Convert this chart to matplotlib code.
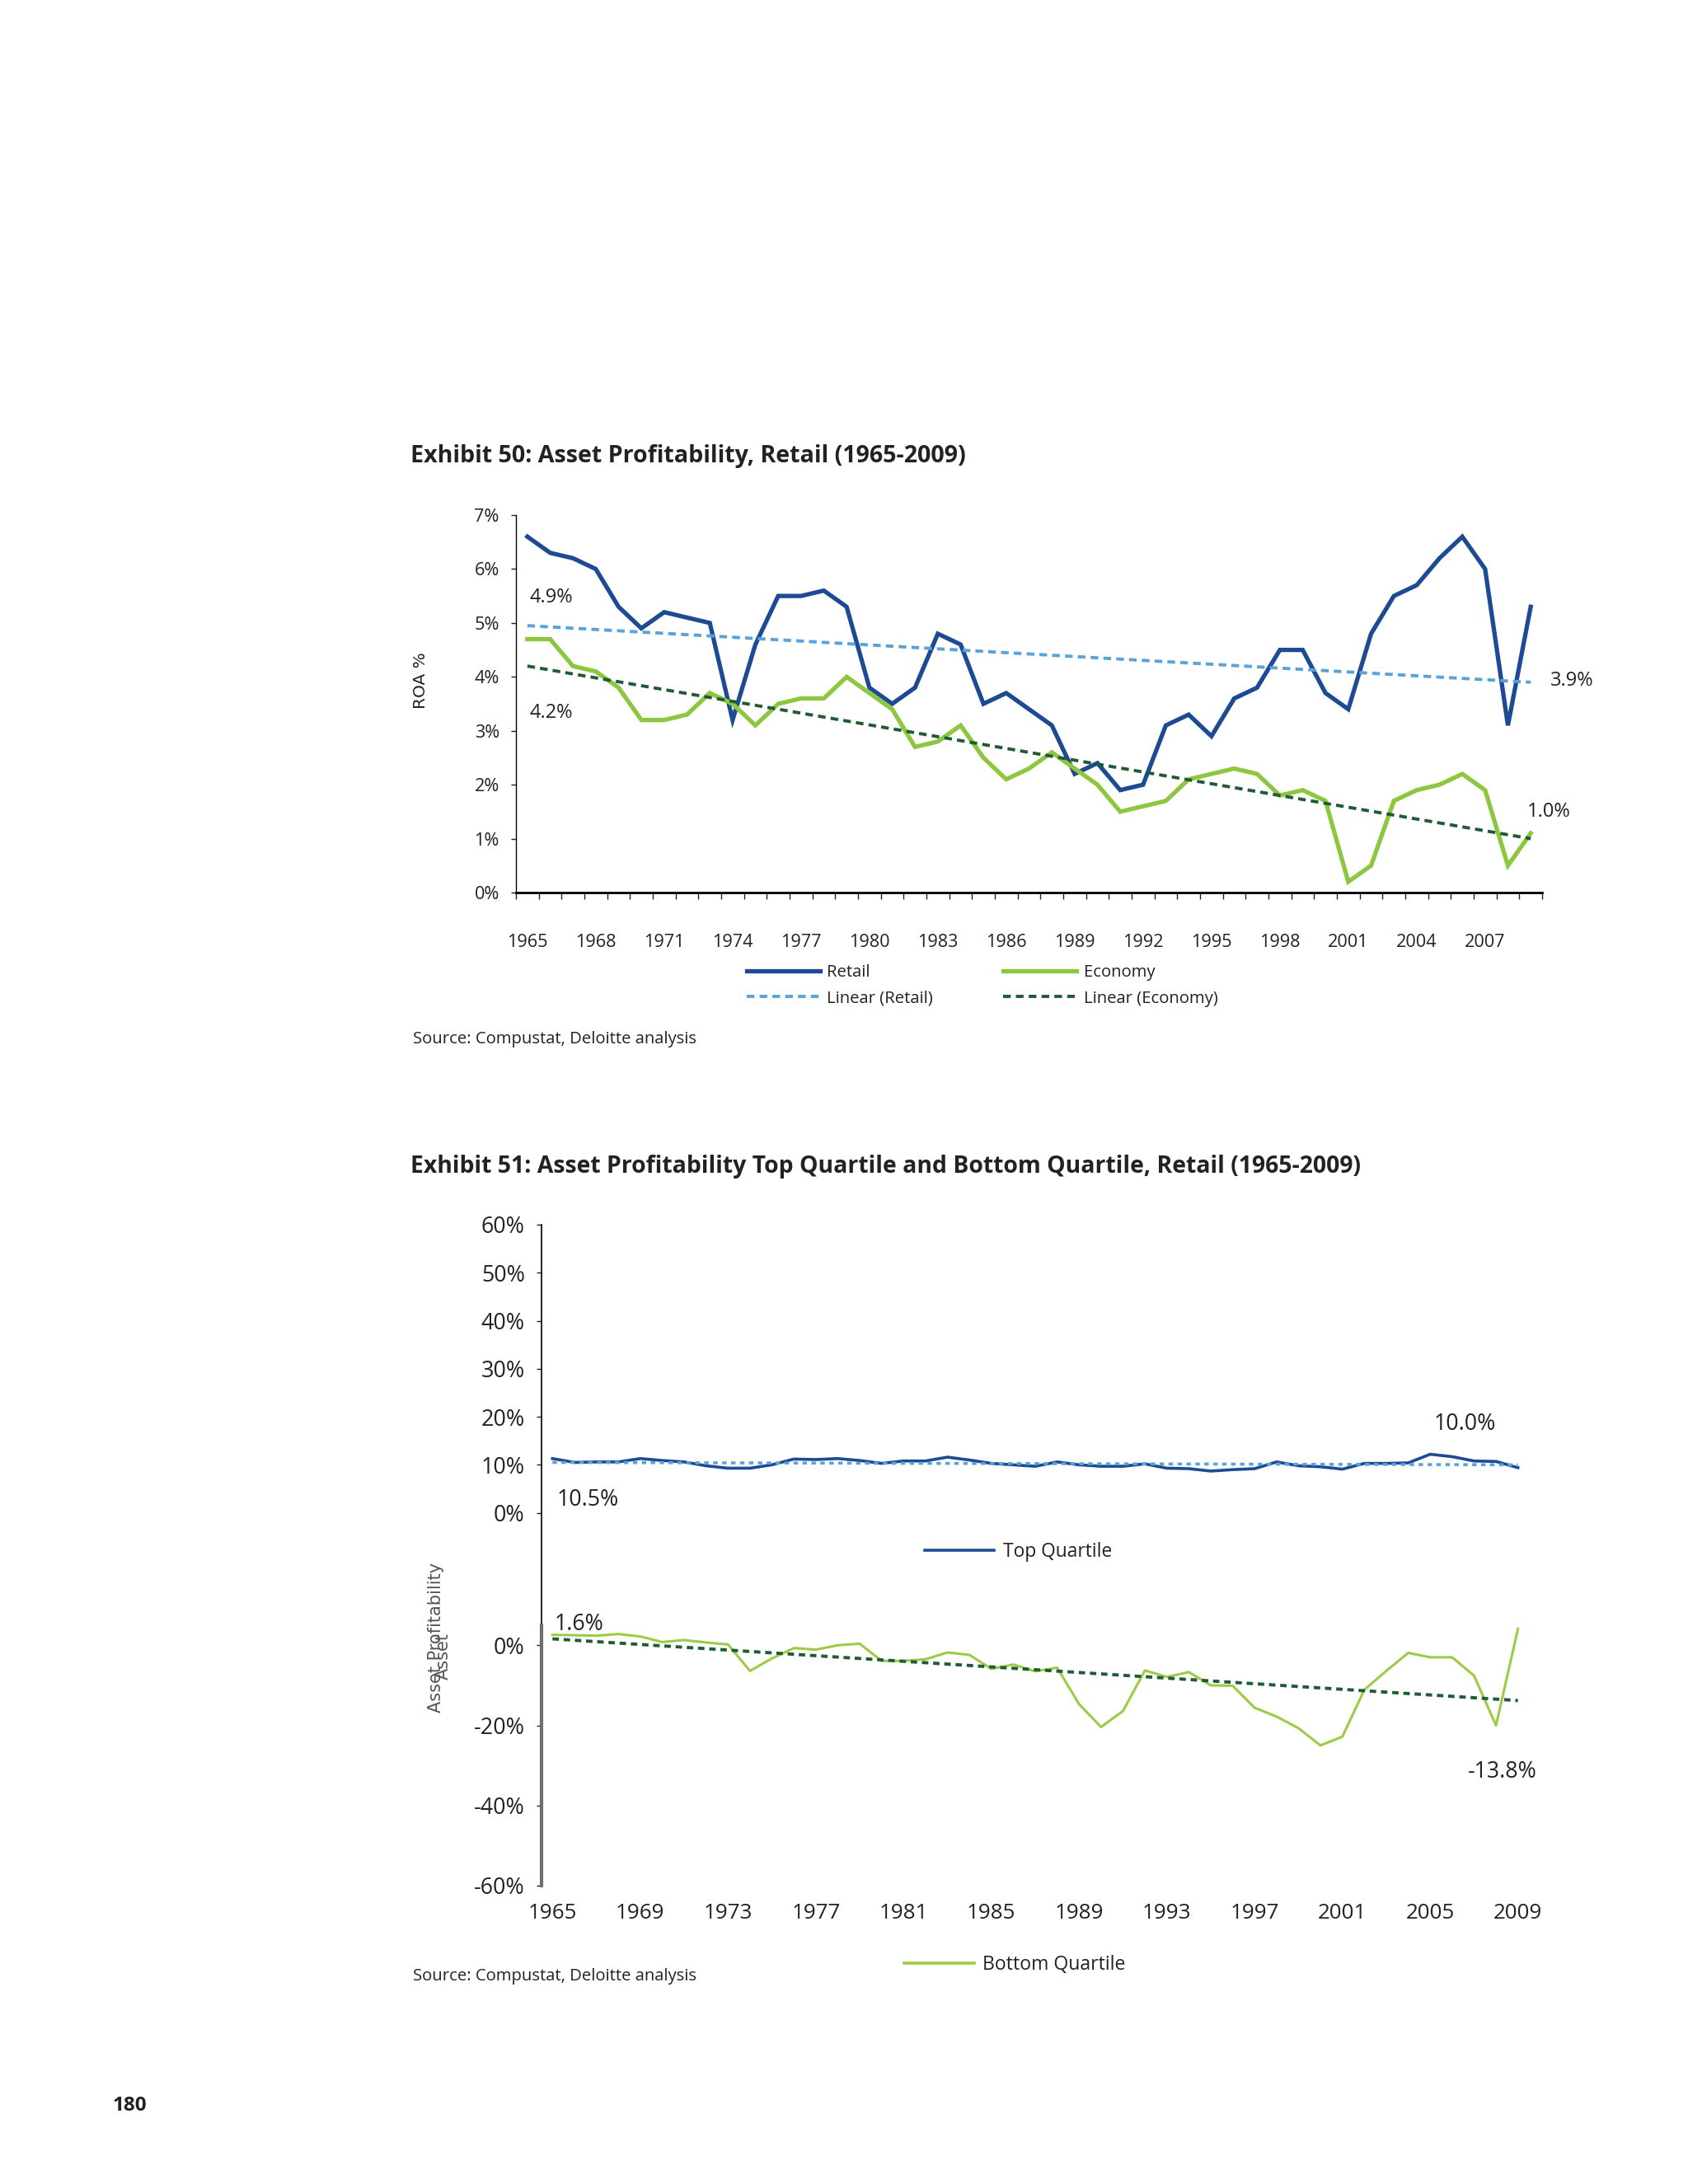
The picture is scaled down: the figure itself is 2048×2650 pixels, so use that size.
import numpy as np
import matplotlib
matplotlib.use("Agg")
import matplotlib.pyplot as plt
from matplotlib.lines import Line2D

plt.rcParams['font.family'] = ['Open Sans', 'DejaVu Sans']
plt.rcParams['text.color'] = '#222222'
plt.rcParams['axes.labelcolor'] = '#222222'
plt.rcParams['xtick.color'] = '#222222'
plt.rcParams['ytick.color'] = '#222222'

# ---- data ----
years = list(range(1965, 2010))

retail_roa = [6.6, 6.3, 6.2, 6.0, 5.3, 4.9, 5.2, 5.1, 5.0, 3.2,
              4.6, 5.5, 5.5, 5.6, 5.3, 3.8, 3.5, 3.8, 4.8, 4.6,
              3.5, 3.7, 3.4, 3.1, 2.2, 2.4, 1.9, 2.0, 3.1, 3.3,
              2.9, 3.6, 3.8, 4.5, 4.5, 3.7, 3.4, 4.8, 5.5, 5.7,
              6.2, 6.6, 6.0, 3.1, 5.3]
economy_roa = [4.7, 4.7, 4.2, 4.1, 3.8, 3.2, 3.2, 3.3, 3.7, 3.5,
               3.1, 3.5, 3.6, 3.6, 4.0, 3.7, 3.4, 2.7, 2.8, 3.1,
               2.5, 2.1, 2.3, 2.6, 2.3, 2.0, 1.5, 1.6, 1.7, 2.1,
               2.2, 2.3, 2.2, 1.8, 1.9, 1.7, 0.2, 0.5, 1.7, 1.9,
               2.0, 2.2, 1.9, 0.5, 1.1]
retail_trend = [4.95, 3.90]     # linear trend, 1965 -> 2009
economy_trend = [4.20, 1.00]

top_quartile = [11.3, 10.5, 10.6, 10.6, 11.3, 10.9, 10.6, 9.8, 9.3, 9.3,
                10.0, 11.2, 11.1, 11.3, 10.9, 10.3, 10.8, 10.8, 11.6, 11.0,
                10.3, 10.0, 9.7, 10.6, 10.0, 9.7, 9.7, 10.2, 9.3, 9.2,
                8.7, 9.0, 9.2, 10.6, 9.8, 9.6, 9.1, 10.3, 10.3, 10.4,
                12.2, 11.7, 10.8, 10.7, 9.4]
bottom_quartile = [2.6, 2.5, 2.4, 2.8, 2.2, 0.8, 1.3, 0.7, 0.2, -6.4,
                   -3.3, -0.7, -1.1, 0.0, 0.4, -3.9, -3.9, -3.5, -1.8, -2.4,
                   -5.9, -4.8, -6.5, -5.6, -14.7, -20.4, -16.4, -6.3, -7.9, -6.7,
                   -10.0, -10.1, -15.6, -17.8, -20.7, -25.0, -22.8, -11.1, -6.4, -1.9,
                   -3.0, -3.0, -7.6, -20.0, 4.1]
top_trend = [10.5, 10.0]
bottom_trend = [1.6, -13.8]

# ---- styles ----
C_RETAIL = '#1C4B94'
C_ECON = '#8DC63F'
C_LIN_RETAIL = '#5AA2DA'
C_LIN_ECON = '#1F5C33'
C_BOTTOM = '#9CCB45'

W, H = 2048, 2650
fig = plt.figure(figsize=(W / 100, H / 100), dpi=100)


def fx(px):
    return px / W


def fy(py):
    return 1 - py / H


x = np.arange(len(years))
ends = [x[0], x[-1]]

# ================= Exhibit 50 =================
fig.text(fx(498), fy(554), 'Exhibit 50: Asset Profitability, Retail (1965-2009)',
         fontsize=20.6, fontweight='bold', va='center', ha='left')

ax1 = fig.add_axes([fx(626), fy(1083), fx(1871 - 626), (1083 - 625) / H])
ax1.plot(x, retail_roa, color=C_RETAIL, lw=3.8, label='Retail', solid_joinstyle='miter')
ax1.plot(x, economy_roa, color=C_ECON, lw=3.8, label='Economy', solid_joinstyle='miter')
ax1.plot(ends, retail_trend, color=C_LIN_RETAIL, lw=2.8, ls=(0, (2.4, 1.6)), label='Linear (Retail)')
ax1.plot(ends, economy_trend, color=C_LIN_ECON, lw=2.8, ls=(0, (2.4, 1.6)), label='Linear (Economy)')
ax1.set_xlim(-0.5, len(years) - 0.5)
ax1.set_ylim(0, 7)
ax1.set_yticks(range(0, 8))
ax1.set_yticklabels([f'{v}%' for v in range(0, 8)])
ax1.set_xticks(x[::3])
ax1.set_xticklabels([str(y) for y in years[::3]])
ax1.set_xticks(np.arange(-0.5, len(years)), minor=True)
ax1.tick_params(axis='x', which='major', length=0, pad=36, labelsize=15.6)
ax1.tick_params(axis='x', which='minor', length=6, width=1, direction='out')
ax1.tick_params(axis='y', length=4.5, width=1, pad=10, labelsize=15.6)
for s in ['top', 'right']:
    ax1.spines[s].set_visible(False)
ax1.spines['bottom'].set_linewidth(2)
ax1.spines['left'].set_linewidth(1)

ax1.text(0.1, 5.47, '4.9%', fontsize=17, va='center', ha='left')
ax1.text(0.1, 3.33, '4.2%', fontsize=17, va='center', ha='left')
ax1.text(44.85, 3.93, '3.9%', fontsize=17, va='center', ha='left', clip_on=False)
ax1.text(43.85, 1.5, '1.0%', fontsize=17, va='center', ha='left')

fig.text(fx(511), fy(826), 'ROA %', rotation=90, fontsize=14.5, va='center', ha='center',
         family=['DejaVu Sans'])

h_ret, l_ret = ax1.get_legend_handles_labels()
order = [0, 2, 1, 3]
fig.legend([h_ret[i] for i in order], [l_ret[i] for i in order], ncol=2,
           loc='center left', bbox_to_anchor=(fx(906), fy(1196)),
           bbox_transform=fig.transFigure, frameon=False, fontsize=14.6,
           handlelength=4.4, handletextpad=0.4, columnspacing=4.2,
           labelspacing=0.55, borderpad=0, borderaxespad=0)

fig.text(fx(501), fy(1261), 'Source: Compustat, Deloitte analysis',
         fontsize=14.6, va='center', ha='left')

# ================= Exhibit 51 =================
fig.text(fx(498), fy(1415),
         'Exhibit 51: Asset Profitability Top Quartile and Bottom Quartile, Retail (1965-2009)',
         fontsize=20.4, fontweight='bold', va='center', ha='left')

left2, right2 = 657, 1855
split = 1972
ax2 = fig.add_axes([fx(left2), fy(split), fx(right2 - left2), (split - 1486) / H])
ax2.plot(x, top_quartile, color=C_RETAIL, lw=2.6, label='Top Quartile')
ax2.plot(ends, top_trend, color=C_LIN_RETAIL, lw=2.6, ls=(0, (1.5, 1.5)))
ax2.set_xlim(-0.5, len(years) - 0.5)
ax2.set_ylim(-23.4, 60)
ax2.set_yticks(range(0, 70, 10))
ax2.set_yticklabels([f'{v}%' for v in range(0, 70, 10)])
ax2.set_xticks([])
ax2.tick_params(axis='y', length=4.5, width=1, pad=10, labelsize=19.4)
for s in ['top', 'right', 'bottom']:
    ax2.spines[s].set_visible(False)
ax2.spines['left'].set_linewidth(1.2)
ax2.patch.set_alpha(0)

ax2.text(41.6, 18.4, '10.0%', fontsize=19.3, va='center', ha='center')
ax2.text(0.2, 2.7, '10.5%', fontsize=19.3, va='center', ha='left')

ax3 = fig.add_axes([fx(left2), fy(2288), fx(right2 - left2), (2288 - split) / H])
ax3.plot(x, bottom_quartile, color=C_BOTTOM, lw=2.2, label='Bottom Quartile')
ax3.plot(ends, bottom_trend, color=C_LIN_ECON, lw=2.8, ls=(0, (2.0, 1.5)))
ax3.set_xlim(-0.5, len(years) - 0.5)
ax3.set_ylim(-60, 5)
ax3.set_yticks([0, -20, -40, -60])
ax3.set_yticklabels(['0%', '-20%', '-40%', '-60%'])
ax3.set_xticks(x[::4])
ax3.set_xticklabels([str(y) for y in years[::4]])
ax3.tick_params(axis='x', length=0, pad=15, labelsize=18.7)
ax3.tick_params(axis='y', length=4.5, width=1, pad=10, labelsize=19.4)
for s in ['top', 'right', 'bottom']:
    ax3.spines[s].set_visible(False)
ax3.spines['left'].set_linewidth(3)
ax3.spines['left'].set_color('#6E6E6E')
ax3.patch.set_alpha(0)

ax3.text(0.1, 5.2, '1.6%', fontsize=19.3, va='center', ha='left', clip_on=False)
ax3.text(41.7, -31.6, '-13.8%', fontsize=19.3, va='center', ha='left')

fig.text(fx(529), fy(1987), 'Asset Profitability', rotation=90, fontsize=15,
         va='center', ha='center', family=['DejaVu Sans'], color='#555555')
fig.text(fx(538), fy(2010), 'Asset', rotation=90, fontsize=15,
         va='center', ha='center', family=['DejaVu Sans'], color='#555555')

fig.legend(handles=[Line2D([], [], color=C_RETAIL, lw=2.6)], labels=['Top Quartile'],
           loc='center left', bbox_to_anchor=(fx(1122), fy(1883)),
           bbox_transform=fig.transFigure, frameon=False, fontsize=16.4,
           handlelength=3.7, handletextpad=0.45, borderpad=0, borderaxespad=0)
fig.legend(handles=[Line2D([], [], color=C_BOTTOM, lw=2.6)], labels=['Bottom Quartile'],
           loc='center left', bbox_to_anchor=(fx(1097), fy(2384)),
           bbox_transform=fig.transFigure, frameon=False, fontsize=16.6,
           handlelength=3.7, handletextpad=0.4, borderpad=0, borderaxespad=0)

fig.text(fx(501), fy(2398), 'Source: Compustat, Deloitte analysis',
         fontsize=14.6, va='center', ha='left')

fig.text(fx(137), fy(2555), '180', fontsize=17.5, fontweight='bold', va='center', ha='left')

fig.savefig('out.png', dpi=100)
